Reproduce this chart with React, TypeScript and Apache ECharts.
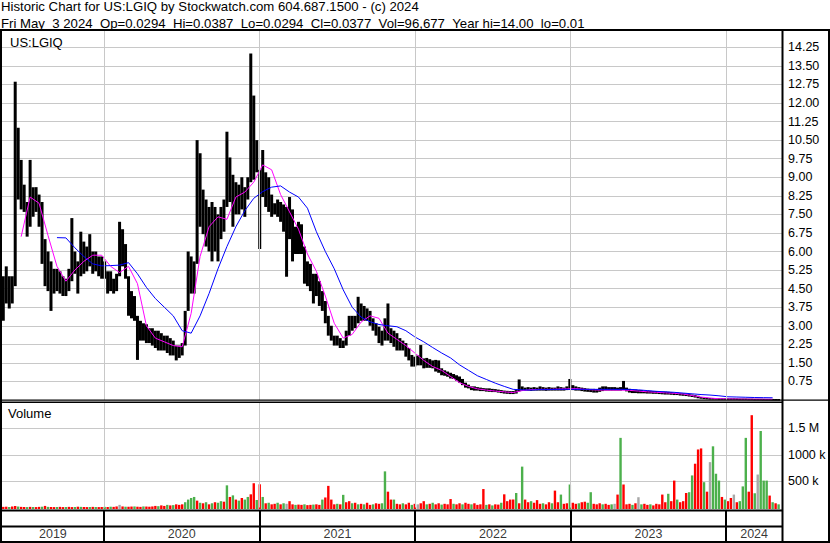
import React, { useEffect, useRef } from "react";
import * as echarts from "echarts";

// ---- time frame ----
const START_UTC = Date.UTC(2019, 4, 7); // left edge of the plot
const AXIS_DAYS = 1831; // right edge of the plot
const YEARS = [2019, 2020, 2021, 2022, 2023, 2024];

// ---- weekly price range (high / low), one entry per week from May 2019 ----
const weeklyHigh = [
  5.0, 5.4, 5.0, 5.0, 12.86, 11.0, 9.7, 8.7, 8.0, 9.7,
  8.6, 8.6, 8.3, 8.0, 6.5, 6.0, 5.6, 5.3, 5.3, 5.2,
  5.0, 4.9, 5.3, 7.35, 6.0, 5.6, 6.8, 6.4, 6.2, 6.7,
  6.0, 6.0, 5.8, 5.8, 5.6, 5.2, 5.2, 4.9, 5.1, 7.2,
  6.9, 6.3, 5.0, 4.4, 4.2, 3.4, 3.2, 3.1, 3.06, 2.9,
  2.9, 2.8, 2.8, 2.7, 2.6, 2.6, 2.5, 2.4, 2.2, 2.2,
  2.3, 3.6, 6.0, 5.8, 5.6, 10.5, 9.97, 8.5, 8.1, 7.8,
  8.0, 7.8, 7.5, 7.8, 8.1, 10.84, 9.8, 9.1, 8.8, 8.7,
  9.0, 8.6, 9.0, 14.0, 12.3, 10.5, 9.3, 10.1, 9.2, 9.0,
  8.3, 7.95, 8.1, 8.0, 7.9, 7.8, 8.2, 7.7, 7.0, 7.2,
  7.1, 6.2, 5.6, 5.5, 5.1, 5.1, 4.8, 4.4, 4.0, 3.4,
  3.0, 2.6, 2.6, 2.5, 2.4, 2.8, 3.4, 3.4, 3.4, 4.17,
  3.9, 3.8, 3.7, 3.6, 3.3, 3.1, 2.96, 2.8, 3.3, 3.9,
  2.9, 2.8, 2.7, 2.5, 2.4, 2.3, 2.1, 1.82, 1.75, 1.8,
  2.22, 1.68, 1.7, 1.65, 1.6, 1.62, 1.6, 1.28, 1.2, 1.15,
  1.1, 1.05, 1.0, 0.95, 0.85, 0.7, 0.62, 0.55, 0.55, 0.52,
  0.5, 0.48, 0.47, 0.47, 0.45, 0.44, 0.42, 0.4, 0.38, 0.37,
  0.36, 0.36, 0.4, 0.83, 0.55, 0.5, 0.52, 0.5, 0.52, 0.5,
  0.55, 0.52, 0.5, 0.52, 0.5, 0.5, 0.55, 0.52, 0.5, 0.55,
  0.85, 0.6, 0.55, 0.52, 0.5, 0.48, 0.46, 0.45, 0.45, 0.44,
  0.5, 0.55, 0.55, 0.52, 0.52, 0.52, 0.5, 0.52, 0.77, 0.5,
  0.45, 0.43, 0.42, 0.4, 0.4, 0.38, 0.38, 0.37, 0.36, 0.36,
  0.35, 0.34, 0.34, 0.33, 0.32, 0.3, 0.3, 0.28, 0.27, 0.26,
  0.24, 0.22, 0.2, 0.17, 0.12, 0.1, 0.09, 0.08, 0.08, 0.08,
  0.07, 0.07, 0.07, 0.07, 0.07, 0.07, 0.065, 0.06, 0.06, 0.06,
  0.055, 0.055, 0.05, 0.05, 0.05, 0.048, 0.045, 0.045, 0.042, 0.04,
  0.0387,
];
const weeklyLow = [
  3.2, 3.9, 3.7, 3.9, 4.6, 8.1, 7.7, 7.6, 6.6, 7.0,
  7.4, 7.6, 7.0, 5.5, 4.6, 4.4, 3.6, 4.3, 4.4, 4.3,
  4.2, 4.2, 4.4, 4.8, 5.1, 4.3, 5.0, 5.1, 5.2, 5.4,
  5.1, 5.2, 5.0, 4.9, 4.9, 4.3, 4.4, 4.3, 4.4, 5.0,
  5.4, 4.9, 3.4, 3.3, 3.2, 1.62, 2.4, 2.4, 2.3, 2.3,
  2.2, 2.1, 2.0, 2.0, 2.0, 1.9, 1.8, 1.8, 1.6, 1.7,
  1.8, 2.2, 3.6, 4.3, 4.3, 5.5, 7.0, 6.7, 6.2, 6.0,
  5.6, 6.0, 5.6, 6.5, 6.8, 7.8, 8.0, 7.0, 7.5, 7.5,
  7.7, 7.4, 8.1, 8.8, 8.9, 9.2, 6.1, 8.2, 7.8, 7.6,
  7.4, 7.5, 7.4, 7.2, 6.8, 4.98, 6.5, 5.6, 5.9, 5.9,
  5.9, 4.7, 4.6, 4.4, 3.9, 4.2, 3.8, 3.6, 3.1, 2.6,
  2.4, 2.2, 2.2, 2.1, 2.1, 2.2, 2.6, 2.8, 2.9, 3.1,
  3.2, 3.2, 3.2, 3.0, 2.8, 2.6, 2.3, 2.2, 2.4, 2.4,
  2.3, 2.15, 2.0, 2.0, 2.0, 1.75, 1.6, 1.35, 1.35, 1.4,
  1.4, 1.28, 1.3, 1.3, 1.28, 1.15, 1.1, 1.0, 0.98, 0.94,
  0.87, 0.85, 0.78, 0.7, 0.6, 0.5, 0.47, 0.4, 0.38, 0.38,
  0.36, 0.36, 0.34, 0.33, 0.32, 0.32, 0.3, 0.28, 0.26, 0.25,
  0.24, 0.24, 0.26, 0.35, 0.38, 0.38, 0.38, 0.37, 0.38, 0.38,
  0.38, 0.38, 0.37, 0.38, 0.38, 0.38, 0.38, 0.38, 0.38, 0.4,
  0.42, 0.4, 0.38, 0.38, 0.36, 0.34, 0.33, 0.32, 0.3, 0.3,
  0.33, 0.36, 0.38, 0.38, 0.38, 0.38, 0.38, 0.38, 0.4, 0.35,
  0.3, 0.28, 0.28, 0.27, 0.27, 0.27, 0.26, 0.26, 0.25, 0.25,
  0.24, 0.23, 0.22, 0.22, 0.21, 0.2, 0.2, 0.18, 0.17, 0.16,
  0.14, 0.12, 0.1, 0.07, 0.05, 0.04, 0.04, 0.04, 0.03, 0.03,
  0.03, 0.03, 0.03, 0.03, 0.03, 0.03, 0.03, 0.03, 0.03, 0.028,
  0.028, 0.027, 0.027, 0.026, 0.026, 0.026, 0.027, 0.027, 0.028, 0.028,
  0.0294,
];

// ---- moving averages, sampled every 3 weeks ----
const maShort = [
  null, null, 6.6, 8.2, 7.95, 6.65, 5.4, 4.8, 5.25, 5.6,
  5.85, 5.85, 5.4, 5.15, 5.4, 4.7, 3.0, 2.5, 2.35, 2.2,
  2.15, 3.5, 5.8, 7.0, 7.4, 7.3, 8.2, 8.4, 8.8, 9.5,
  9.3, 8.3, 7.6, 6.9, 5.9, 5.2, 4.2, 3.1, 2.5, 2.65,
  3.15, 3.4, 3.3, 2.7, 2.45, 2.2, 1.9, 1.6, 1.35, 1.2,
  0.95, 0.7, 0.55, 0.45, 0.4, 0.36, 0.33, 0.3, 0.38, 0.42,
  0.43, 0.43, 0.44, 0.45, 0.46, 0.43, 0.41, 0.4, 0.4, 0.4,
  0.39, 0.36, 0.33, 0.31, 0.29, 0.27, 0.24, 0.18, 0.12, 0.08,
  0.05, 0.045, 0.04, 0.035, 0.035, 0.033, 0.032,
];
const maLong = [
  null, null, null, null, null, null, 6.56, 6.55, 6.15, 5.8,
  5.5, 5.42, 5.43, 5.45, 5.55, 5.1, 4.55, 4.1, 3.75, 3.4,
  2.8, 2.7, 3.4, 4.3, 5.3, 6.2, 7.0, 7.65, 8.15, 8.42,
  8.6, 8.65, 8.4, 8.2, 7.75, 6.8, 6.0, 5.3, 4.45, 3.75,
  3.35, 3.16, 3.05, 3.0, 2.96, 2.8, 2.55, 2.35, 2.12, 1.9,
  1.7, 1.42, 1.2, 0.98, 0.83, 0.68, 0.55, 0.43, 0.41, 0.4,
  0.42, 0.42, 0.43, 0.43, 0.43, 0.43, 0.43, 0.43, 0.43, 0.43,
  0.43, 0.41, 0.38, 0.35, 0.33, 0.31, 0.28, 0.25, 0.22, 0.2,
  0.17, 0.13, 0.12, 0.11, 0.1, 0.095, 0.09,
];

// ---- weekly volume (thousands of shares) and bar colour code ----
const weeklyVolume = [
  12, 15, 10, 20, 30, 18, 12, 10, 8, 12,
  10, 8, 12, 15, 30, 12, 10, 8, 10, 12,
  8, 10, 12, 8, 10, 15, 12, 10, 8, 10,
  12, 10, 8, 10, 12, 10, 15, 12, 20, 50,
  20, 15, 12, 18, 20, 15, 12, 20, 18, 15,
  20, 30, 25, 40, 30, 50, 40, 45, 60, 50,
  60, 100, 150, 180, 200, 130, 90, 80, 100, 60,
  80, 100, 90, 120, 110, 420, 200, 230, 150, 130,
  180, 150, 200, 250, 460, 140, 440, 200, 80, 90,
  60, 70, 90, 60, 80, 70, 120, 60, 50, 55,
  50, 60, 45, 50, 55, 60, 50, 150, 190, 410,
  150, 60, 70, 60, 240, 100, 120, 80, 90, 60,
  70, 60, 90, 50, 60, 80, 70, 80, 685, 300,
  150, 150, 70, 60, 80, 60, 90, 50, 70, 60,
  80, 120, 60, 70, 90, 60, 80, 55, 70, 60,
  160, 70, 60, 80, 60, 90, 70, 60, 80, 50,
  60, 350, 50, 60, 40, 60, 55, 90, 250, 120,
  150, 150, 275, 80, 775, 150, 100, 120, 90, 140,
  70, 80, 60, 100, 80, 320, 100, 245, 70, 80,
  436, 90, 70, 80, 100, 110, 90, 290, 70, 60,
  80, 60, 70, 50, 60, 70, 245, 1320, 436, 60,
  70, 50, 80, 195, 60, 70, 50, 60, 40, 70,
  60, 245, 100, 260, 120, 510, 150, 100, 120, 275,
  290, 608, 830, 1100, 1120, 480, 300, 860, 1160, 640,
  510, 200, 150, 120, 180, 245, 100, 120, 400, 1320,
  300, 1750, 270, 625, 1450, 510, 510, 226, 100, 80,
  60,
];
const volumeColourCodes = (
  "rrgrrgrrgr" + "grrgrgrrgr" + "rgrrgrgrrg" + "rgrrgrgrrn" + "rgrrgrrgrr" +
  "rrgrrgrgrr" + "rggggrgrgr" + "grggrgrgrg" + "rggrrgrgrg" + "rrgrgnrrgr" +
  "rgrrgrrgrr" + "rrgrgrrgrg" + "rgrrgrrggr" + "rgrrgrrgrn" + "rrgrgrrgrr" +
  "rgrrgrrgrr" + "rrgrgrrgrr" + "rrgrgrrgrr" + "rgrrgrrgrr" + "grrgrrggrr" +
  "rgrrgnrgrr" + "rgrngrrgrr" + "rrrgrrgrrr" + "ggrrrgrngg" + "grgrrnrggg" +
  "rrgngggrgr" + "g"
).split("");

const PRICE_TICKS = { interval: 0.75 };
const VOLUME_LABELS: Record<number, string> = { 500: "500 k", 1000: "1000 k", 1500: "1.5 M" };

const HEADER_1 = "Historic Chart for US:LGIQ by Stockwatch.com 604.687.1500 - (c) 2024";
const HEADER_2 =
  "Fri May  3 2024  Op=0.0294  Hi=0.0387  Lo=0.0294  Cl=0.0377  Vol=96,677  Year hi=14.00  lo=0.01";

const FONT = '"Liberation Sans", Arial, sans-serif';
const COLOURS: Record<string, string> = { r: "#ff0000", g: "#4cb04c", n: "#a8a8a8" };

const dayOfDate = (y: number, m: number, d: number) => (Date.UTC(y, m - 1, d) - START_UTC) / 86400000;
const weekDay = (k: number) => 7 * k + 3;
// keep runs of spaces visible in SVG text
const keepSpaces = (s: string) => s.replace(/  /g, " \u00a0");

const textStyle = (text: string, size: number) => ({
  text,
  fill: "#000000",
  font: `${size}px ${FONT}`,
  align: "left",
  verticalAlign: "middle",
});

export default function App() {
  const ref = useRef<HTMLDivElement>(null);

  useEffect(() => {
    if (!ref.current) return;
    const chart = echarts.init(ref.current, undefined, { renderer: "svg" });

    const yearStarts = YEARS.slice(1).map((y) => dayOfDate(y, 1, 1));
    const yearMid = YEARS.map((y) => {
      const a = Math.max(0, dayOfDate(y, 1, 1));
      const b = Math.min(AXIS_DAYS, dayOfDate(y + 1, 1, 1));
      return [(a + b) / 2, 0.25, String(y)];
    });

    const priceData = weeklyHigh.map((h, k) => [weekDay(k), weeklyLow[k], h]);
    const volData = weeklyVolume.map((v, k) => [weekDay(k), v, volumeColourCodes[k]]);
    const shortData = maShort
      .map((v, i) => [weekDay(3 * i), v])
      .filter((p) => p[1] !== null);
    const longData = maLong
      .map((v, i) => [weekDay(3 * i), v])
      .filter((p) => p[1] !== null);

    const xAxisBase = {
      type: "value" as const,
      min: 0,
      max: AXIS_DAYS,
      show: false,
      splitLine: { show: false },
    };

    const gridLinesMark = (colour: string, width: number) => ({
      silent: true,
      symbol: ["none", "none"],
      label: { show: false },
      lineStyle: { color: colour, width, type: "solid" },
      emphasis: { disabled: true },
      animation: false,
      data: yearStarts.map((d) => ({ xAxis: d })),
    });

    const option: any = {
      animation: false,
      backgroundColor: "#ffffff",
      grid: [
        { left: 2, top: 31, width: 780, height: 369 },
        { left: 2, top: 402, width: 780, height: 105.5 },
        { left: 2, top: 510, width: 780, height: 32 },
      ],
      xAxis: [
        { ...xAxisBase, gridIndex: 0 },
        { ...xAxisBase, gridIndex: 1 },
        { ...xAxisBase, gridIndex: 2 },
      ],
      yAxis: [
        {
          type: "value",
          gridIndex: 0,
          position: "right",
          min: 0,
          max: 369 / 24.75,
          interval: PRICE_TICKS.interval,
          axisLine: { show: false },
          axisTick: { show: false },
          axisLabel: {
            show: true,
            showMinLabel: false,
            showMaxLabel: false,
            margin: 6,
            color: "#000000",
            fontFamily: FONT,
            fontSize: 12.5,
            formatter: (v: number) => (v > 0 && v < 14.5 ? v.toFixed(2) : ""),
          },
          splitLine: { show: true, showMinLine: false, showMaxLine: false, lineStyle: { color: "#c8c8c8", width: 1 } },
        },
        {
          type: "value",
          gridIndex: 1,
          position: "right",
          min: 0,
          max: 2000,
          interval: 500,
          axisLine: { show: false },
          axisTick: { show: false },
          axisLabel: {
            show: true,
            margin: 6,
            color: "#000000",
            fontFamily: FONT,
            fontSize: 12.5,
            formatter: (v: number) => VOLUME_LABELS[v] || "",
          },
          splitLine: { show: true, showMinLine: false, showMaxLine: false, lineStyle: { color: "#c8c8c8", width: 1 } },
        },
        { type: "value", gridIndex: 2, min: 0, max: 1, show: false, splitLine: { show: false } },
      ],
      series: [
        {
          type: "custom",
          name: "Price",
          xAxisIndex: 0,
          yAxisIndex: 0,
          silent: true,
          encode: { x: 0, y: [1, 2] },
          data: priceData,
          renderItem: (params: any, api: any) => {
            const d = api.value(0);
            const top = api.coord([d, api.value(2)]);
            const bottom = api.coord([d, api.value(1)]);
            const h = Math.max(bottom[1] - top[1], 1.6);
            return {
              type: "rect",
              shape: { x: top[0] - 1.5, y: top[1], width: 3, height: h },
              style: { fill: "#000000" },
            };
          },
          markLine: gridLinesMark("#c8c8c8", 1),
          z: 2,
        },
        {
          type: "line",
          name: "Short MA",
          xAxisIndex: 0,
          yAxisIndex: 0,
          data: shortData,
          showSymbol: false,
          silent: true,
          lineStyle: { color: "#ff00ff", width: 1 },
          z: 3,
        },
        {
          type: "line",
          name: "Long MA",
          xAxisIndex: 0,
          yAxisIndex: 0,
          data: longData,
          showSymbol: false,
          silent: true,
          lineStyle: { color: "#0000ff", width: 1 },
          z: 3,
        },
        {
          type: "custom",
          name: "Volume",
          xAxisIndex: 1,
          yAxisIndex: 1,
          silent: true,
          encode: { x: 0, y: 1 },
          data: volData,
          renderItem: (params: any, api: any) => {
            const d = api.value(0);
            const top = api.coord([d, api.value(1)]);
            const base = api.coord([d, 0]);
            const code = volData[params.dataIndex][2] as string;
            return {
              type: "rect",
              shape: { x: top[0] - 1.2, y: top[1], width: 2.4, height: Math.max(base[1] - top[1] + 1.5, 1) },
              style: { fill: COLOURS[code] },
            };
          },
          markLine: gridLinesMark("#c8c8c8", 1),
          z: 2,
        },
        {
          type: "scatter",
          name: "Years",
          xAxisIndex: 2,
          yAxisIndex: 2,
          silent: true,
          symbolSize: 0,
          data: yearMid,
          label: {
            show: true,
            position: "inside",
            formatter: (p: any) => p.data[2],
            color: "#000000",
            fontFamily: FONT,
            fontSize: 12.5,
          },
          markLine: gridLinesMark("#000000", 2),
        },
      ],
      graphic: [
        { type: "text", x: 1, y: 6.5, style: textStyle(HEADER_1, 13.2) },
        { type: "text", x: 1, y: 23.5, style: textStyle(keepSpaces(HEADER_2), 13.2) },
        { type: "text", x: 10, y: 42, z: 10, style: textStyle("US:LGIQ", 13) },
        { type: "text", x: 8, y: 413, z: 10, style: textStyle("Volume", 13) },
        { type: "rect", shape: { x: 0, y: 29, width: 830, height: 2 }, style: { fill: "#000" }, z: 20 },
        { type: "rect", shape: { x: 0, y: 30, width: 2, height: 513 }, style: { fill: "#000" }, z: 20 },
        { type: "rect", shape: { x: 781.5, y: 30, width: 2, height: 513 }, style: { fill: "#000" }, z: 20 },
        { type: "rect", shape: { x: 828, y: 30, width: 2, height: 513 }, style: { fill: "#000" }, z: 20 },
        { type: "rect", shape: { x: 0, y: 399.5, width: 830, height: 1.3 }, style: { fill: "#000" }, z: 20 },
        { type: "rect", shape: { x: 0, y: 401.6, width: 782, height: 1.3 }, style: { fill: "#000" }, z: 20 },
        { type: "rect", shape: { x: 0, y: 509.5, width: 782, height: 2 }, style: { fill: "#000" }, z: 20 },
        { type: "rect", shape: { x: 0, y: 525.5, width: 782, height: 2 }, style: { fill: "#000" }, z: 20 },
        { type: "rect", shape: { x: 0, y: 541, width: 830, height: 2 }, style: { fill: "#000" }, z: 20 },
      ],
    };

    chart.setOption(option);
    return () => chart.dispose();
  }, []);

  return <div ref={ref} style={{ position: "fixed", left: 0, top: 0, width: 830, height: 543 }} />;
}
